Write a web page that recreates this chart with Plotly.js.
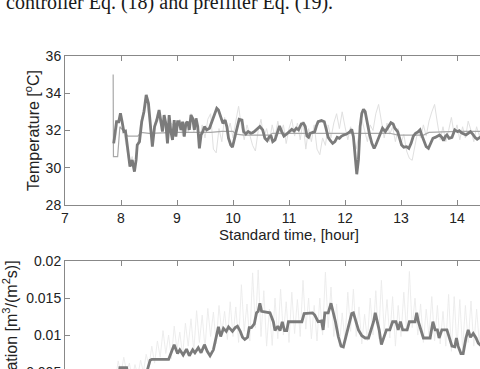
<!DOCTYPE html>
<html>
<head>
<meta charset="utf-8">
<script src="https://cdn.plot.ly/plotly-3.0.1.min.js"></script>
<style>
html,body{margin:0;padding:0;background:#fff;overflow:hidden;width:480px;height:369px;}
#chart{width:560px;height:430px;}
</style>
</head>
<body>
<div id="chart"></div>
<script>
// ---------- Top panel: temperature ----------
var tempTime = [7.87,7.92,7.96,7.99,8.02,8.05,8.08,8.11,8.16,8.20,8.24,8.27,8.29,8.33,8.37,8.41,8.45,8.49,8.52,8.56,8.60,8.64,8.68,8.71,8.74,8.77,8.80,8.83,8.86,8.89,8.92,8.95,8.98,9.01,9.04,9.07,9.10,9.13,9.16,9.19,9.22,9.25,9.28,9.31,9.34,9.37,9.40,9.43,9.46,9.49,9.53,9.58,9.62,9.67,9.71,9.74,9.77,9.82,9.86,9.89,9.92,9.96,9.99,10.04,10.08,10.11,10.16,10.19,10.23,10.27,10.32,10.35,10.39,10.44,10.48,10.53,10.57,10.61,10.65,10.68,10.71,10.75,10.78,10.83,10.87,10.91,10.96,11.00,11.05,11.09,11.13,11.17,11.22,11.26,11.29,11.32,11.35,11.38,11.42,11.46,11.49,11.52,11.58,11.63,11.66,11.70,11.74,11.78,11.82,11.86,11.90,11.94,11.98,12.03,12.09,12.12,12.15,12.18,12.21,12.24,12.27,12.30,12.33,12.36,12.39,12.44,12.48,12.52,12.55,12.60,12.64,12.67,12.72,12.74,12.79,12.82,12.86,12.89,12.94,12.97,13.01,13.05,13.10,13.14,13.18,13.22,13.26,13.31,13.34,13.37,13.41,13.45,13.49,13.53,13.57,13.61,13.65,13.69,13.73,13.76,13.79,13.82,13.86,13.91,13.94,13.96,14.01,14.04,14.08,14.13,14.16,14.20,14.24,14.28,14.32,14.36,14.41,14.50,14.60,14.70,14.80,14.90,15.00];
var tempMeasured = [31.31,32.47,32.47,32.92,32.47,31.94,31.97,31.31,30.06,30.42,29.79,30.42,31.22,31.40,32.47,33.01,33.91,33.46,32.47,31.13,32.21,32.56,33.10,32.56,31.94,32.83,32.38,31.31,32.83,31.94,31.49,32.56,31.67,32.47,32.47,32.03,32.47,31.67,32.38,32.47,32.03,32.83,32.65,32.03,32.65,32.21,31.04,31.76,31.94,32.21,32.03,32.12,32.47,32.83,33.19,33.10,32.83,32.38,32.56,32.21,31.58,31.22,31.10,31.67,32.21,32.60,32.56,31.94,31.81,31.94,31.85,31.88,31.97,32.12,32.21,32.03,31.58,31.45,31.67,31.70,31.40,31.49,31.76,32.24,31.94,31.70,31.81,31.94,32.06,31.97,32.12,32.03,32.35,32.38,32.21,31.70,31.63,31.85,31.88,31.94,32.24,32.47,32.53,32.47,32.12,31.63,31.45,31.31,31.40,31.63,31.58,31.70,31.76,31.81,31.94,32.06,31.67,30.77,29.65,30.42,32.21,32.92,33.14,33.01,32.47,31.76,31.31,31.04,31.22,31.63,31.99,32.12,31.94,32.03,32.30,32.42,32.35,32.12,31.94,31.63,31.22,31.10,31.13,31.04,31.31,31.70,31.85,31.94,32.03,31.76,31.40,31.13,31.04,31.31,31.58,31.63,31.70,31.76,31.63,31.45,31.67,31.76,31.58,31.63,31.88,32.03,31.94,31.99,31.88,31.81,31.76,31.85,31.94,31.81,31.63,31.53,31.63,31.80,32.00,31.70,31.90,31.60,31.80];

var refTime = [7.86,7.865,7.94,7.98,8.05,8.12,8.30,8.36,8.50,9.00,9.60,9.80,10.00,10.05,10.20,10.65,10.70,11.00,12.00,12.80,12.95,13.40,13.50,14.00,15.00];
var refTemp = [35.0,30.6,30.6,32.2,31.95,31.7,31.7,31.9,31.85,31.9,31.9,31.95,31.95,31.8,31.75,31.75,31.85,31.85,31.85,31.85,31.75,31.75,31.9,31.95,31.95];

var lightTime = [7.90,7.95,8.00,8.05,8.10,8.15,8.20,8.25,8.30,8.35,8.40,8.45,8.50,8.55,8.60,8.65,8.70,8.75,8.80,8.85,8.90,8.95,9.00,9.05,9.10,9.15,9.20,9.25,9.30,9.35,9.40,9.45,9.50,9.55,9.60,9.65,9.70,9.75,9.80,9.85,9.90,9.95,10.00,10.05,10.10,10.15,10.20,10.25,10.30,10.35,10.40,10.45,10.50,10.55,10.60,10.65,10.70,10.75,10.80,10.85,10.90,10.95,11.00,11.05,11.10,11.15,11.20,11.25,11.30,11.35,11.40,11.45,11.50,11.55,11.60,11.65,11.70,11.75,11.80,11.85,11.90,11.95,12.00,12.05,12.10,12.15,12.20,12.25,12.30,12.35,12.40,12.45,12.50,12.55,12.60,12.65,12.70,12.75,12.80,12.85,12.90,12.95,13.00,13.05,13.10,13.15,13.20,13.25,13.30,13.35,13.40,13.45,13.50,13.55,13.60,13.65,13.70,13.75,13.80,13.85,13.90,13.95,14.00,14.05,14.10,14.15,14.20,14.25,14.30,14.35,14.40,14.45,14.50,14.60,14.70,14.80,14.90,15.00];
var lightTemp = [31.5,32.6,32.8,31.9,31.2,30.2,30.6,29.9,31.3,32.4,33.1,33.6,32.7,31.3,32.3,32.9,32.4,32.0,32.5,31.5,32.4,32.2,32.0,32.6,31.7,32.5,31.9,32.9,31.9,32.4,31.3,32.3,31.6,32.6,32.9,31.0,30.8,32.1,31.4,32.7,31.9,32.4,31.6,32.5,33.3,32.2,31.5,32.3,31.7,31.2,30.9,32.0,32.6,31.6,32.1,31.4,32.3,31.6,32.5,31.8,32.3,31.3,32.1,32.6,31.7,32.4,31.5,32.5,31.0,32.1,31.4,32.3,31.0,30.7,31.6,31.2,32.3,31.6,32.4,32.9,32.1,33.0,32.2,31.5,32.2,31.6,31.0,31.8,32.6,32.0,31.4,32.3,32.0,32.9,33.4,32.5,31.6,32.4,31.8,32.2,31.4,32.1,31.3,31.8,30.9,30.5,30.4,31.2,32.0,31.6,32.3,31.7,32.5,33.0,33.4,32.4,31.5,32.2,31.4,32.0,32.7,31.8,32.3,31.5,32.2,31.6,32.5,32.0,31.4,32.2,31.7,32.4,31.8,32.2,31.5,32.3,31.7,32.0];

// ---------- Bottom panel: ventilation ----------
var ventTime = [7.87,7.97,7.98,8.10,8.12,8.45,8.52,8.55,8.85,8.88,8.95,9.01,9.05,9.11,9.17,9.22,9.28,9.32,9.38,9.43,9.49,9.54,9.59,9.65,9.70,9.74,9.78,9.83,9.88,9.92,9.99,10.04,10.08,10.13,10.17,10.21,10.26,10.29,10.33,10.38,10.42,10.45,10.48,10.51,10.66,10.72,10.75,10.80,10.84,10.88,10.92,10.96,10.99,11.23,11.27,11.42,11.46,11.52,11.58,11.61,11.64,11.70,11.75,11.79,11.83,11.88,11.93,11.97,12.01,12.07,12.12,12.15,12.20,12.24,12.30,12.36,12.42,12.46,12.51,12.54,12.58,12.61,12.65,12.70,12.74,12.80,12.85,12.91,12.95,12.99,13.03,13.11,13.15,13.25,13.28,13.31,13.35,13.40,13.52,13.57,13.61,13.65,13.68,13.73,13.82,13.86,13.91,13.96,13.99,14.02,14.07,14.11,14.16,14.20,14.24,14.29,14.34,14.38,14.41,14.50,14.60,14.75,14.90,15.00];
var ventRate = [0.0047,0.0047,0.0056,0.0056,0.0047,0.0047,0.0066,0.0067,0.0067,0.0073,0.0087,0.0075,0.0080,0.0073,0.0081,0.0072,0.0080,0.0076,0.0083,0.0076,0.0087,0.0078,0.0072,0.0080,0.0099,0.0111,0.0098,0.0109,0.0105,0.0111,0.0105,0.0110,0.0112,0.0105,0.0097,0.0094,0.0097,0.0110,0.0110,0.0115,0.0130,0.0132,0.0143,0.0132,0.0130,0.0118,0.0106,0.0112,0.0106,0.0118,0.0106,0.0106,0.0118,0.0118,0.0129,0.0130,0.0127,0.0118,0.0119,0.0107,0.0130,0.0130,0.0143,0.0132,0.0118,0.0098,0.0085,0.0084,0.0097,0.0115,0.0129,0.0130,0.0118,0.0107,0.0099,0.0096,0.0096,0.0105,0.0118,0.0130,0.0118,0.0107,0.0087,0.0098,0.0107,0.0107,0.0118,0.0118,0.0107,0.0118,0.0107,0.0107,0.0118,0.0118,0.0130,0.0118,0.0107,0.0096,0.0096,0.0118,0.0107,0.0107,0.0096,0.0107,0.0107,0.0096,0.0085,0.0084,0.0096,0.0085,0.0075,0.0075,0.0096,0.0107,0.0097,0.0102,0.0096,0.0089,0.0087,0.0092,0.0086,0.0098,0.0090,0.0095];

var ventLightTime = [7.90,7.95,8.00,8.05,8.10,8.15,8.20,8.25,8.30,8.35,8.40,8.45,8.50,8.55,8.60,8.65,8.70,8.75,8.80,8.85,8.90,8.95,9.00,9.05,9.10,9.15,9.20,9.25,9.30,9.35,9.40,9.45,9.50,9.55,9.60,9.65,9.70,9.75,9.80,9.85,9.90,9.95,10.00,10.05,10.10,10.15,10.20,10.25,10.30,10.35,10.40,10.45,10.50,10.55,10.60,10.65,10.70,10.75,10.80,10.85,10.90,10.95,11.00,11.05,11.10,11.15,11.20,11.25,11.30,11.35,11.40,11.45,11.50,11.55,11.60,11.65,11.70,11.75,11.80,11.85,11.90,11.95,12.00,12.05,12.10,12.15,12.20,12.25,12.30,12.35,12.40,12.45,12.50,12.55,12.60,12.65,12.70,12.75,12.80,12.85,12.90,12.95,13.00,13.05,13.10,13.15,13.20,13.25,13.30,13.35,13.40,13.45,13.50,13.55,13.60,13.65,13.70,13.75,13.80,13.85,13.90,13.95,14.00,14.05,14.10,14.15,14.20,14.25,14.30,14.35,14.40,14.45,14.50,14.55,14.60,14.65,14.70,14.75,14.80,14.85,14.90,14.95,15.00];
var ventLightRate = [0.0040,0.0065,0.0048,0.0070,0.0050,0.0062,0.0042,0.0060,0.0045,0.0066,0.0050,0.0074,0.0058,0.0085,0.0062,0.0092,0.0070,0.0106,0.0075,0.0100,0.0068,0.0112,0.0080,0.0104,0.0072,0.0116,0.0085,0.0122,0.0078,0.0133,0.0090,0.0127,0.0082,0.0136,0.0098,0.0131,0.0088,0.0140,0.0102,0.0132,0.0094,0.0145,0.0098,0.0138,0.0090,0.0168,0.0105,0.0142,0.0092,0.0184,0.0110,0.0188,0.0098,0.0160,0.0085,0.0135,0.0086,0.0150,0.0095,0.0162,0.0100,0.0145,0.0090,0.0158,0.0102,0.0148,0.0098,0.0174,0.0108,0.0150,0.0095,0.0140,0.0092,0.0150,0.0100,0.0185,0.0110,0.0165,0.0098,0.0142,0.0085,0.0130,0.0092,0.0158,0.0105,0.0162,0.0098,0.0138,0.0088,0.0128,0.0092,0.0150,0.0100,0.0160,0.0095,0.0174,0.0105,0.0148,0.0096,0.0152,0.0085,0.0140,0.0098,0.0158,0.0105,0.0186,0.0110,0.0150,0.0100,0.0142,0.0090,0.0135,0.0098,0.0152,0.0092,0.0140,0.0088,0.0132,0.0085,0.0155,0.0078,0.0152,0.0082,0.0148,0.0080,0.0140,0.0090,0.0146,0.0085,0.0135,0.0088,0.0142,0.0090,0.0150,0.0085,0.0138,0.0092,0.0145,0.0088,0.0140,0.0090,0.0136,0.0092];

var xTicks = [7,8,9,10,11,12,13,14,15];
var tempTicks = [28,30,32,34,36];
var ventTicks = [0,0.005,0.01,0.015,0.02];

var caption = 'controller Eq. (18) and prefilter Eq. (19).';

var thickColor = '#7b7b7b', refColor = '#a8a8a8', lightColor = '#e0e0e0', lightColor2 = '#ebebeb';

var traces = [
  {x: lightTime, y: lightTemp, type:'scatter', mode:'lines', line:{color:lightColor, width:1}, xaxis:'x', yaxis:'y'},
  {x: refTime, y: refTemp, type:'scatter', mode:'lines', line:{color:refColor, width:1.2}, xaxis:'x', yaxis:'y'},
  {x: tempTime, y: tempMeasured, type:'scatter', mode:'lines', line:{color:thickColor, width:2.8}, xaxis:'x', yaxis:'y'},
  {x: ventLightTime, y: ventLightRate, type:'scatter', mode:'lines', line:{color:lightColor2, width:0.9}, xaxis:'x2', yaxis:'y2'},
  {x: ventTime, y: ventRate, type:'scatter', mode:'lines', line:{color:thickColor, width:2.8}, xaxis:'x2', yaxis:'y2'}
];

var tickFont = {family:'Liberation Sans, Arial, sans-serif', size:14, color:'#222'};
var xTitleFont = {family:'Liberation Sans, Arial, sans-serif', size:15, color:'#222'};
var yTitleFont = {family:'Liberation Sans, Arial, sans-serif', size:16, color:'#222'};
function xa(anchor, title){
  var a = {anchor:anchor, domain:[0,1], range:[7,15], tickvals:xTicks, ticktext:xTicks.map(String),
    ticks:'inside', ticklen:5, tickcolor:'#888', showline:true, linecolor:'#888', linewidth:1,
    mirror:'ticks', showgrid:false, zeroline:false, tickfont:tickFont};
  if (title) a.title = {text:title, font:xTitleFont, standoff:2};
  return a;
}
function ya(anchor, dom, rng, tv, title, standoff){
  return {anchor:anchor, domain:dom, range:rng, tickvals:tv, ticktext:tv.map(String),
    ticks:'inside', ticklen:5, tickcolor:'#888', showline:true, linecolor:'#888', linewidth:1,
    mirror:'ticks', showgrid:false, zeroline:false, tickfont:tickFont,
    title:{text:title, font:yTitleFont, standoff:standoff}};
}

var layout = {
  width:560, height:430,
  margin:{l:65, r:47, t:56, b:21, pad:0},
  paper_bgcolor:'#fff', plot_bgcolor:'#fff', showlegend:false,
  font: tickFont,
  xaxis: xa('y', 'Standard time, [hour]'),
  yaxis: ya('x', [0.578,1], [28,36], tempTicks, 'Temperature [<sup>o</sup>C]', 2),
  xaxis2: xa('y2', null),
  yaxis2: ya('x2', [0,0.419], [0,0.02], ventTicks, 'Ventilation [m<sup>3</sup>/(m<sup>2</sup>s)]', 9),
  annotations:[{text:caption, xref:'paper', yref:'paper', x:-61/448, y:(409-2.5)/353, xanchor:'left', yanchor:'middle', showarrow:false,
    font:{family:'Liberation Serif, Times New Roman, serif', size:20, color:'#1a1a1a'}}]
};

Plotly.newPlot('chart', traces, layout, {staticPlot:true, displayModeBar:false});
</script>
</body>
</html>
